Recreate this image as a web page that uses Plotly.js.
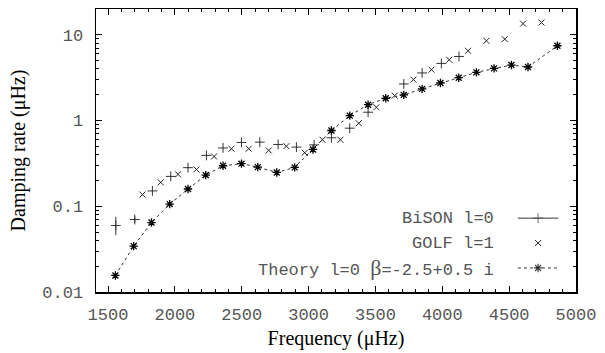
<!DOCTYPE html>
<html>
<head>
<meta charset="utf-8">
<script src="https://cdn.plot.ly/plotly-3.0.1.min.js"></script>
<style>html,body{margin:0;padding:0;background:#fff;}#chart{width:605px;height:353px;}</style>
</head>
<body>
<div id="chart"></div>
<script>
// ---- data ----
const bisonFreq = [1558,1700,1832,1969,2098,2236,2360,2498,2635,2772,2909,3041,3171,3308,3445,3712,3849,3993,4125];
const bisonRate = [0.0597,0.070,0.151,0.223,0.282,0.392,0.479,0.555,0.56,0.526,0.49,0.52,0.629,0.814,1.25,2.67,3.59,4.64,5.59];
const bisonErrPlus  = [0.0154,0.006,0.004,0.004,0.004,0.005,0.005,0.006,0.006,0.006,0.006,0.006,0.007,0.008,0.01,0.02,0.03,0.04,0.05];
const bisonErrMinus = [0.0137,0.006,0.004,0.004,0.004,0.005,0.005,0.006,0.006,0.006,0.006,0.006,0.007,0.008,0.01,0.02,0.03,0.04,0.05];

const golfFreq = [1757,1894,2024,2161,2293,2423,2552,2702,2834,2971,3104,3238,3375,3507,3644,3784,3919,4052,4193,4330,4467,4604,4742];
const golfRate = [0.137,0.19,0.236,0.269,0.381,0.469,0.469,0.448,0.502,0.421,0.597,0.597,0.93,1.43,1.95,3.0,3.92,5.12,6.51,8.51,8.91,13.5,13.9];

const theoryFreq = [1555,1692,1825,1961,2098,2231,2360,2498,2620,2762,2896,3033,3171,3308,3445,3577,3712,3849,3986,4123,4255,4387,4517,4641,4861];
const theoryRate = [0.0156,0.0343,0.0646,0.106,0.159,0.231,0.297,0.314,0.286,0.248,0.284,0.46,0.765,1.14,1.53,1.82,1.99,2.34,2.74,3.16,3.65,4.06,4.44,4.21,7.45];

const seriesNames = ['BiSON l=0', 'GOLF l=1', 'Theory l=0 <span style="font-family:\'Liberation Serif\';font-size:22px">β</span>=-2.5+0.5 i'];
const xTickVals = [1500,2000,2500,3000,3500,4000,4500,5000];
const yTickVals = [0.01,0.1,1,10];
const yTickText = ['0.01','0.1','1','10'];
const yMinorVals = [0.02,0.03,0.04,0.05,0.06,0.07,0.08,0.09,0.2,0.3,0.4,0.5,0.6,0.7,0.8,0.9,2,3,4,5,6,7,8,9];

// ---- styling / layout ----
const ink = '#222';
const tickFont = {family:'Liberation Mono, Courier New, monospace', size:17, color:'#555'};
const titleFont = {family:'Liberation Serif, Times New Roman, serif', size:20, color:'#000'};

// legend key geometry (fractions of the plot area)
const keyX = [0.879, 0.921, 0.963];
const keyRowY = [0.261, 0.173, 0.085];
const keyTextX = 0.833;

const traces = [
  {x: bisonFreq, y: bisonRate, mode:'markers', type:'scatter', name: seriesNames[0],
   marker:{symbol:'cross-thin', size:7, color:ink, line:{width:1, color:'#333'}},
   error_y:{type:'data', symmetric:false, array: bisonErrPlus, arrayminus: bisonErrMinus, color:'#333', thickness:1, width:0},
   showlegend:false, cliponaxis:false},
  {x: golfFreq, y: golfRate, mode:'markers', type:'scatter', name: seriesNames[1],
   marker:{symbol:'x-thin', size:6, color:ink, line:{width:1, color:ink}}, showlegend:false},
  {x: theoryFreq, y: theoryRate, mode:'lines+markers', type:'scatter', name: seriesNames[2],
   line:{color:'#333', width:1, dash:'dot'},
   marker:{symbol:'asterisk', size:7, color:'#000', line:{width:1.3, color:'#000'}}, showlegend:false},
  // legend keys on an overlay axis
  {x: keyX, y: [keyRowY[0],keyRowY[0],keyRowY[0]], xaxis:'x2', yaxis:'y2', mode:'lines+markers', hoverinfo:'skip',
   line:{color:'#333', width:1}, marker:{symbol:'cross-thin', size:[0,7,0], line:{width:1,color:'#333'}}, showlegend:false},
  {x: [keyX[1]], y: [keyRowY[1]], xaxis:'x2', yaxis:'y2', mode:'markers', hoverinfo:'skip',
   marker:{symbol:'x-thin', size:6, line:{width:1,color:ink}}, showlegend:false},
  {x: keyX, y: [keyRowY[2],keyRowY[2],keyRowY[2]], xaxis:'x2', yaxis:'y2', mode:'lines+markers', hoverinfo:'skip',
   line:{color:'#333', width:1, dash:'dot'}, marker:{symbol:'asterisk', size:[0,7,0], line:{width:1.3,color:'#000'}}, showlegend:false}
];

const annotations = seriesNames.map((t,i)=>({
  text:t, xref:'x2', yref:'y2', x:keyTextX, y:keyRowY[i], xanchor:'right', yanchor:'middle',
  showarrow:false, font:tickFont
}));

const layout = {
  width:605, height:353,
  margin:{l:96, r:29, t:9, b:61},
  paper_bgcolor:'#fff', plot_bgcolor:'#fff',
  showlegend:false,
  xaxis:{range:[1410,5000], tickvals:xTickVals, ticks:'inside', ticklen:6, tickwidth:1, tickcolor:'#000',
         minor:{dtick:100, tick0:1500, ticks:'inside', ticklen:3, tickcolor:'#000', showgrid:false},
         showline:true, linecolor:'#000', linewidth:1.5, mirror:'ticks', showgrid:false, zeroline:false,
         tickfont:tickFont, ticklabelstandoff:6,
         title:{text:'Frequency (μHz)', font:titleFont, standoff:7}},
  yaxis:{type:'log', range:[-2, Math.log10(20)], tickvals:yTickVals, ticktext:yTickText,
         ticks:'inside', ticklen:6, tickwidth:1, tickcolor:'#000',
         minor:{tickvals:yMinorVals, ticks:'inside', ticklen:3, tickcolor:'#000', showgrid:false},
         showline:true, linecolor:'#000', linewidth:1.5, mirror:'ticks', showgrid:false, zeroline:false,
         tickfont:tickFont, ticklabelstandoff:8,
         title:{text:'Damping rate (μHz)', font:titleFont, standoff:11}},
  xaxis2:{overlaying:'x', range:[0,1], visible:false, fixedrange:true},
  yaxis2:{overlaying:'y', range:[0,1], visible:false, fixedrange:true},
  annotations: annotations
};

Plotly.newPlot('chart', traces, layout, {displayModeBar:false, staticPlot:true});
</script>
</body>
</html>
